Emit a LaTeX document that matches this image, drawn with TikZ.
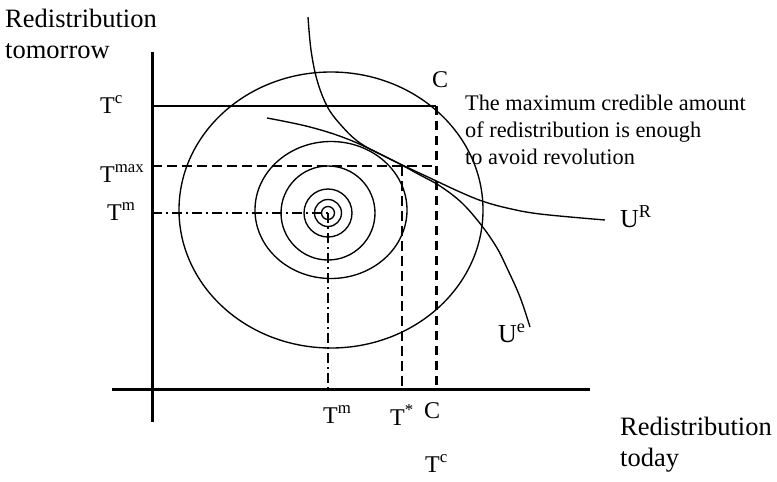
\documentclass[tikz,border=0pt]{standalone}
\usepackage{fontspec}
\setmainfont{Liberation Serif}

\begin{document}
\begin{tikzpicture}[x=1pt,y=-1pt,
  axisline/.style={line width=3pt},
  plainline/.style={line width=1.35pt},
  dashline/.style={line width=1.35pt, dash pattern=on 10pt off 5pt},
  cdash/.style={line width=3pt, dash pattern=on 9pt off 6pt},
  dotdash/.style={line width=1.35pt, dash pattern=on 10pt off 4pt on 2pt off 4pt},
  lab/.style={inner sep=0pt, anchor=base west, font=\fontsize{24}{28}\selectfont},
  big/.style={inner sep=0pt, anchor=base west, font=\fontsize{26.5}{31}\selectfont}]

\useasboundingbox (0,0) rectangle (777,482);

% Points
\coordinate (ytop) at (152,52);
\coordinate (ybot) at (152,422);
\coordinate (xleft) at (112,389);
\coordinate (xright) at (590,389);
\coordinate (tcy) at (152,106);
\coordinate (C) at (436,106);
\coordinate (cx) at (436,389);
\coordinate (tmaxy) at (152,166);
\coordinate (tmaxc) at (436,166);
\coordinate (tstar) at (402,166);
\coordinate (tstarx) at (402,389);
\coordinate (tmy) at (152,213);
\coordinate (M) at (328,213);
\coordinate (tmx) at (328,389);

% Axes
\draw[axisline] (ytop)--(ybot);
\draw[axisline] (xleft)--(xright);

% Guide lines
\draw[plainline] (tcy)--(C);
\draw[cdash] (C)--(cx);
\draw[dashline] (tmaxy)--(tmaxc);
\draw[dashline] (tstar)--(tstarx);
\draw[dotdash] (tmy)--(M);
\draw[dotdash] (M)--(tmx);

% Indifference curves
\draw[plainline] (331,210) ellipse [x radius=152, y radius=138];
\draw[plainline] (331,210) ellipse [x radius=76, y radius=68.5];
\foreach \r in {47,24,13.5,6.5}
  \draw[plainline] (M) circle [radius=\r];

\draw[plainline] plot[smooth, tension=0.6] coordinates {(308,17) (311,50) (317,80) (327,106)
  (340,124) (360,143) (392,160) (430,178) (460,192) (482,201) (507,208) (540,214) (605,220)};
\draw[plainline] plot[smooth, tension=0.6] coordinates {(267,118) (310,127) (350,140)
  (392,160) (420,175) (440,186) (462,203) (482,226) (497,248) (507,268) (520,297) (530,327)};

% Labels
\node[big] (ytitle) at (5,27) {Redistribution};
\node[big] (ytitle2) at (5,58) {tomorrow};
\node[big] (xtitle) at (620,435) {Redistribution};
\node[big] (xtitle2) at (620,466) {today};

\node[lab] (tc) at (100,113) {T\textsuperscript{c}};
\node[lab] (tmax) at (100,182) {T\textsuperscript{max}};
\node[lab] (tm) at (107,220) {T\textsuperscript{m}};
\node[lab] (ctop) at (432,87) {C};

\node[lab] (tmb) at (323,423) {T\textsuperscript{m}};
\node[lab] (tsb) at (390,425) {T\textsuperscript{*}};
\node[lab] (cb) at (424,418) {C};
\node[lab] (tcb) at (425,472) {T\textsuperscript{c}};

\node[lab, font=\fontsize{26}{30}\selectfont] (ur) at (620,227) {U\textsuperscript{R}};
\node[lab, font=\fontsize{26}{30}\selectfont] (ue) at (498,342) {U\textsuperscript{e}};

\node[inner sep=0pt, anchor=north west, align=left, font=\fontsize{22.3}{27}\selectfont]
  (note) at (465,95) {The maximum credible amount\\of redistribution is enough\\to avoid revolution};

\end{tikzpicture}
\end{document}
